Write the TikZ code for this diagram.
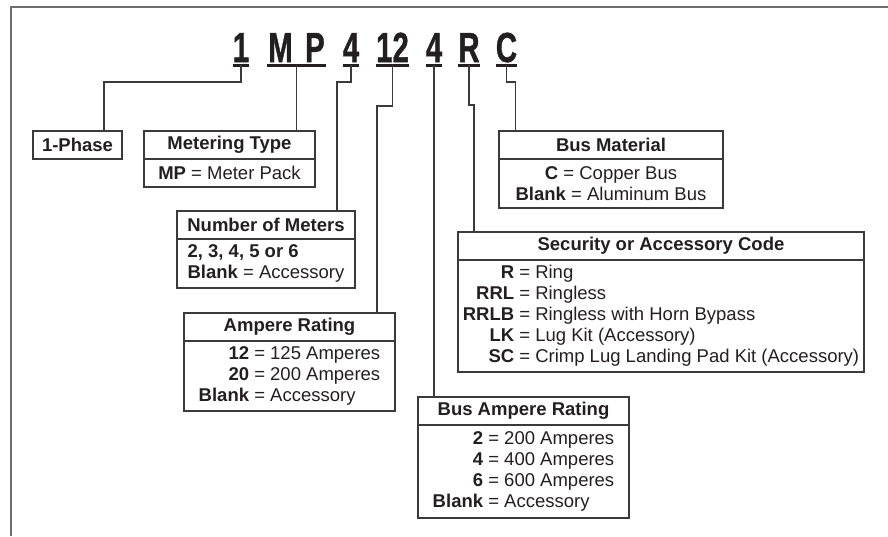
\documentclass[tikz,border=0pt]{standalone}
\usepackage{fontspec}
\setmainfont{Liberation Sans}
\newfontfamily\codefont[FakeBold=1.2]{Liberation Sans Bold}
\usepackage{graphicx}
\usetikzlibrary{positioning}

\definecolor{framegray}{HTML}{6E6E6E}
\definecolor{linegray}{HTML}{3A3A3A}
\definecolor{inkblack}{HTML}{231F20}

\newcommand{\lblfont}{\fontsize{18.5}{21}\selectfont}
\newcommand{\cnd}[1]{\scalebox{0.7}[1]{#1}}

\tikzset{
  code/.style={inner sep=0pt, outer sep=0pt, anchor=base, text=inkblack,
    font=\codefont\fontsize{42}{48}\selectfont},
  uline/.style={line width=3pt, inkblack},
  wire/.style={line width=1.2pt, linegray},
  ttl/.style={draw=linegray, line width=1.2pt, inner sep=0pt, outer sep=0pt,
    minimum height=28pt, anchor=north west, text=inkblack, font=\lblfont\bfseries},
  bdy/.style={draw=linegray, line width=1.2pt, inner sep=0pt, outer sep=0pt,
    text=inkblack, font=\lblfont},
}

\begin{document}
\begin{tikzpicture}[x=1pt, y=-1pt]
    \useasboundingbox (0,0) rectangle (888,536);

    % Frame
    \draw[framegray, line width=2pt] (11,536) -- (11,7) -- (888,7);

    % Catalog number
    \node[code, minimum width=16pt] (c1) at (241,62) {\cnd{1}};
    \node[code, minimum width=59pt] (cMP) at (296.5,62) {\cnd{M\hspace{0.42em}P}};
    \node[code, minimum width=16pt] (c4a) at (351,62) {\cnd{4}};
    \node[code, minimum width=33pt] (c12) at (392.5,62) {\cnd{12}};
    \node[code, minimum width=16pt] (c4b) at (434,62) {\cnd{4}};
    \node[code, minimum width=20pt] (cR) at (469,62) {\cnd{R}};
    \node[code, minimum width=21pt] (cC) at (506.5,62) {\cnd{C}};
    \foreach \n in {c1,cMP,c4a,c12,c4b,cR,cC}
        \draw[uline] ([yshift=-3pt]\n.base west) -- ([yshift=-3pt]\n.base east);

    % 1-Phase
    \node[ttl, minimum width=89pt] (phase) at (33,131) {1-Phase};

    % Metering type
    \node[ttl, minimum width=171pt] (mtT) at (144,131) {Metering Type};
    \node[bdy, minimum width=171pt, minimum height=28pt, below=0pt of mtT] (mtB)
        {\textbf{MP} = Meter Pack};

    % Number of meters
    \node[ttl, minimum width=178pt] (nmT) at (177,211) {Number of Meters};
    \node[bdy, minimum width=178pt, minimum height=49pt, below=0pt of nmT] (nmB)
        {\begin{tabular}{@{}l@{}}\textbf{2, 3, 4, 5 or 6}\\\textbf{Blank} = Accessory\end{tabular}};

    % Ampere rating
    \node[ttl, minimum width=211pt] (arT) at (184,313) {Ampere Rating};
    \node[bdy, minimum width=211pt, minimum height=70pt, below=0pt of arT] (arB)
        {\begin{tabular}{@{}r@{\ =\ }l@{}}
            \textbf{12} & 125 Amperes\\
            \textbf{20} & 200 Amperes\\
            \textbf{Blank} & Accessory
        \end{tabular}};

    % Bus material
    \node[ttl, minimum width=224pt] (bmT) at (499,131) {Bus Material};
    \node[bdy, minimum width=224pt, minimum height=49pt, align=center, below=0pt of bmT] (bmB)
        {\textbf{C} = Copper Bus\\\textbf{Blank} = Aluminum Bus};

    % Security or accessory code
    \node[ttl, minimum width=406pt] (secT) at (458,232) {Security or Accessory Code};
    \node[bdy, minimum width=406pt, minimum height=112pt, below=0pt of secT] (secB)
        {\begin{tabular}{@{}r@{\ =\ }l@{}}
            \textbf{R} & Ring\\
            \textbf{RRL} & Ringless\\
            \textbf{RRLB} & Ringless with Horn Bypass\\
            \textbf{LK} & Lug Kit (Accessory)\\
            \textbf{SC} & Crimp Lug Landing Pad Kit (Accessory)
        \end{tabular}};

    % Bus ampere rating
    \node[ttl, minimum width=211pt] (barT) at (418,397) {Bus Ampere Rating};
    \node[bdy, minimum width=211pt, minimum height=93pt, below=0pt of barT] (barB)
        {\begin{tabular}{@{}r@{\ =\ }l@{}}
            \textbf{2} & 200 Amperes\\
            \textbf{4} & 400 Amperes\\
            \textbf{6} & 600 Amperes\\
            \textbf{Blank} & Accessory
        \end{tabular}};

    % Leaders
    \coordinate (e1) at (104,82);
    \coordinate (e4a) at (337,82);
    \coordinate (e12) at (377,106);
    \coordinate (eR) at (474,105);
    \coordinate (eC) at (515.5,82);
    \draw[wire] ([yshift=-3pt]c1.base) |- (e1) -- (e1 |- phase.north);
    \draw[wire] ([yshift=-3pt]cMP.base) -- (cMP |- mtT.north);
    \draw[wire] ([yshift=-3pt]c4a.base) |- (e4a) -- (e4a |- nmT.north);
    \draw[wire] ([yshift=-3pt]c12.base) |- (e12) -- (e12 |- arT.north);
    \draw[wire] ([yshift=-3pt]c4b.base) -- (c4b |- barT.north);
    \draw[wire] ([yshift=-3pt]cR.base) |- (eR) -- (eR |- secT.north);
    \draw[wire] ([yshift=-3pt]cC.base) |- (eC) -- (eC |- bmT.north);
\end{tikzpicture}
\end{document}
